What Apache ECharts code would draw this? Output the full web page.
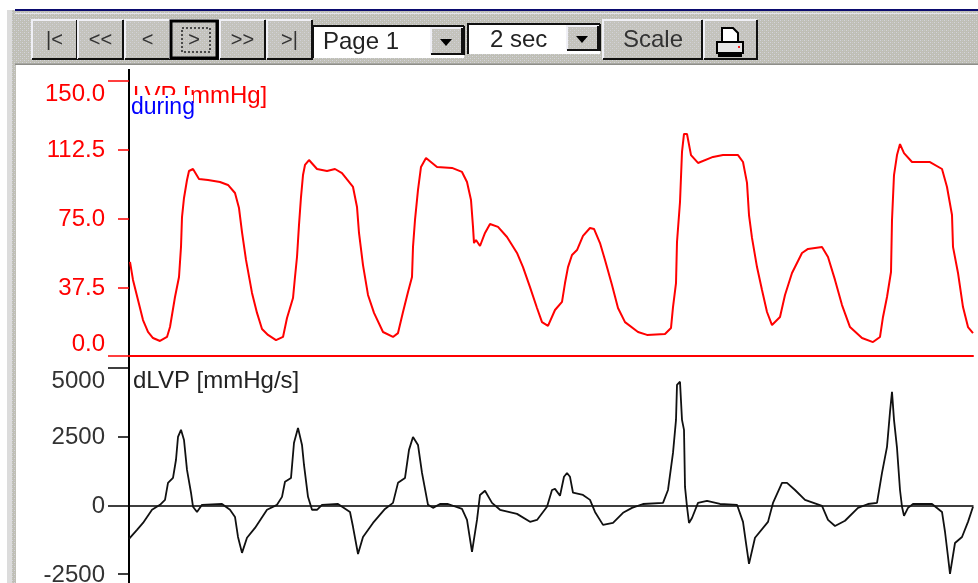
<!DOCTYPE html>
<html><head><meta charset="utf-8">
<style>html,body{margin:0;padding:0;background:#fff}#c{width:978px;height:583px}</style>
<script src="https://cdn.jsdelivr.net/npm/echarts@6/dist/echarts.min.js"></script>
</head><body><div id="c"></div>
<script>
const lvpPoints=[[1,51.3],[4,41.5],[9,30.5],[14,19.6],[19,13.1],[24,9.8],[31,8.2],[38,10.4],[41,15.8],[46,32.2],[50,43.1],[52,59.5],[53,75.8],[55,86.2],[58,96.0],[60,100.9],[64,102.0],[70,96.6],[79,96.0],[91,94.9],[99,93.3],[106,88.9],[110,80.7],[113,67.6],[117,52.4],[123,34.4],[128,23.5],[133,14.7],[139,11.5],[147,8.7],[154,10.4],[158,20.7],[164,31.6],[166,43.1],[168,54.0],[170,71.5],[172,86.7],[174,98.7],[176,104.2],[180,106.9],[188,102.0],[198,100.9],[206,102.0],[213,99.8],[224,92.2],[228,81.3],[230,67.1],[234,49.6],[239,33.3],[245,23.5],[254,13.1],[264,10.4],[269,12.5],[274,24.0],[279,34.9],[283,43.1],[284,59.5],[286,74.2],[289,90.6],[292,103.1],[297,108.0],[308,103.1],[323,102.6],[333,100.4],[338,94.9],[342,85.1],[344,70.4],[345,61.6],[347,63.3],[351,60.0],[356,67.1],[361,72.0],[369,70.4],[378,64.9],[388,56.2],[394,48.5],[401,37.6],[408,26.2],[413,18.5],[419,16.4],[421,16.9],[426,25.1],[433,29.5],[436,39.8],[439,48.5],[443,55.1],[448,57.8],[454,65.5],[461,69.8],[465,69.3],[471,61.6],[476,52.4],[483,38.7],[489,26.2],[496,18.5],[509,13.1],[518,11.5],[536,12.0],[542,15.3],[544,26.7],[547,39.8],[548,62.2],[551,84.0],[553,111.3],[555,121.1],[558,121.1],[562,109.6],[569,105.3],[584,108.6],[594,109.6],[609,109.6],[614,105.8],[618,94.4],[620,76.9],[623,64.4],[628,48.5],[633,36.0],[638,24.0],[643,16.9],[651,21.3],[656,33.3],[663,45.3],[673,56.2],[679,58.4],[693,59.5],[699,54.0],[706,41.5],[713,27.8],[721,15.8],[733,9.8],[744,7.6],[751,10.4],[754,21.3],[758,32.2],[762,45.8],[763,74.2],[765,98.7],[768,109.6],[771,115.6],[775,110.7],[783,105.8],[801,105.8],[813,102.0],[818,92.2],[823,76.9],[824,59.5],[829,45.3],[834,26.7],[839,15.8],[844,12.5]];
const dlvpPoints=[[0,-1220],[8,-890],[14,-640],[23,-160],[31,20],[36,200],[39,820],[44,1000],[47,1660],[49,2490],[52,2750],[55,2380],[58,1290],[62,460],[64,-50],[68,-240],[73,20],[93,50],[101,-160],[106,-420],[109,-1150],[113,-1730],[118,-1180],[126,-820],[138,-160],[148,20],[153,310],[156,860],[162,1000],[165,2280],[169,2820],[173,2200],[175,1470],[179,310],[183,-160],[188,-160],[193,20],[209,50],[221,-240],[224,-780],[229,-1770],[234,-1150],[244,-640],[256,-130],[264,90],[269,820],[276,1000],[280,2020],[284,2490],[289,2200],[293,1180],[299,20],[304,-90],[311,50],[319,50],[333,-130],[338,-530],[343,-1690],[348,-530],[351,380],[356,530],[363,90],[371,-160],[388,-310],[401,-600],[408,-530],[418,-50],[423,560],[426,600],[431,350],[435,1040],[438,1180],[441,1040],[444,460],[454,380],[461,200],[466,-240],[474,-710],[484,-640],[494,-270],[503,-90],[514,50],[534,90],[539,560],[544,1910],[547,3110],[548,4390],[551,4500],[553,3110],[555,2750],[556,670],[558,-50],[560,-640],[563,-460],[569,90],[578,160],[591,50],[608,20],[614,-600],[617,-1370],[620,-2130],[626,-1180],[639,-600],[644,90],[653,820],[658,820],[666,560],[676,200],[693,-20],[699,-530],[706,-750],[716,-560],[729,-90],[739,50],[748,90],[753,1180],[758,2130],[761,3400],[763,4130],[765,3110],[768,2090],[771,560],[773,-50],[775,-380],[779,-90],[784,50],[803,50],[813,-240],[816,-960],[819,-1870],[821,-2490],[826,-1370],[833,-1150],[839,-600],[844,-50]];
const lvpTicks=[0,37.5,75,112.5,150];
const dlvpTicks=[-2500,0,2500,5000];
const lvpLongTicks=[0,150];
const dlvpLongTicks=[0,5000];
const navButtons=['|<','<<','<','>','>>','>|'];
const pageLabel='Page 1', spanLabel='2 sec', scaleLabel='Scale';
const lvpTitle='LVP [mmHg]', stateTitle='during', dlvpTitle='dLVP [mmHg/s]';

const FONT='"Liberation Sans", Arial, sans-serif';
const FS=24;
function dither(a,b,c){
  const cv=document.createElement('canvas');cv.width=cv.height=4;
  const g=cv.getContext('2d');
  g.fillStyle=a;g.fillRect(0,0,4,4);
  g.fillStyle=b;g.fillRect(0,0,1,1);g.fillRect(2,2,1,1);
  g.fillStyle=c;g.fillRect(2,0,1,1);g.fillRect(0,2,1,1);
  return {image:cv,repeat:'repeat'};
}
const BAR=dither('#bfbeb6','#d4d4dc','#c6cac0');
const BTN=dither('#c3c2bc','#d2d2d8','#c8c8c2');

function bevel(x,y,w,h,fill){
  return [
    {type:'rect',shape:{x,y,width:w,height:h},style:{fill:fill||BTN}},
    {type:'polyline',shape:{points:[[x,y+h],[x,y],[x+w,y]]},style:{fill:'none',stroke:'#f0f0f6',lineWidth:2}},
    {type:'polyline',shape:{points:[[x,y+h],[x+w,y+h],[x+w,y]]},style:{fill:'none',stroke:'#111',lineWidth:2}}
  ];
}
function button(x,y,w,h,focus){
  const el=bevel(x,y,w,h);
  if(focus){
    el.push({type:'rect',shape:{x:x+1,y:y+1,width:w-2,height:h-2},style:{fill:'none',stroke:'#000',lineWidth:3}});
    el.push({type:'rect',shape:{x:x+12,y:y+8,width:w-20,height:h-15},style:{fill:'none',stroke:'#222',lineWidth:1.5,lineDash:[2,2]}});
  }
  return el;
}
function label(text,x,y,color,size){
  return {type:'text',x,y,style:{text,fill:color,font:(size||FS)+'px '+FONT,textAlign:'left',textVerticalAlign:'middle'}};
}
const chrome=[];
chrome.push({type:'rect',shape:{x:7,y:10,width:9,height:573},style:{fill:'#dcdcdc'}});
chrome.push({type:'rect',shape:{x:12,y:10,width:4,height:573},style:{fill:BAR}});
chrome.push({type:'rect',shape:{x:15,y:11,width:963,height:54},style:{fill:BAR}});
chrome.push({type:'rect',shape:{x:15,y:9,width:963,height:2},style:{fill:'#0a0a6e'}});
chrome.push({type:'rect',shape:{x:15,y:13,width:963,height:1},style:{fill:'#e4e4ea'}});
chrome.push({type:'rect',shape:{x:15,y:63.5,width:963,height:1.5},style:{fill:'#8e8e8a'}});
const nb=[[32,45],[78,45],[125,45],[170,48],[220,45],[267,45]];
nb.forEach((b,i)=>{
  chrome.push(...button(b[0],20,b[1],39,i===3));
  chrome.push({type:'text',x:b[0]+b[1]/2,y:40,style:{text:navButtons[i],fill:'#333',font:'20px '+FONT,textAlign:'center',textVerticalAlign:'middle'}});
});
function combo(x,y,w,h,text,tx,ty){
  const el=[];
  el.push({type:'rect',shape:{x,y,width:w,height:h},style:{fill:'#fff'}});
  el.push({type:'polyline',shape:{points:[[x,y+h],[x,y],[x+w,y]]},style:{fill:'none',stroke:'#111',lineWidth:2}});
  el.push({type:'polyline',shape:{points:[[x+w,y],[x+w,y+h-3]]},style:{fill:'none',stroke:'#111',lineWidth:2}});
  el.push(...bevel(x+w-33,y+2,31,h-6));
  el.push({type:'polygon',shape:{points:[[x+w-24,y+h/2-3],[x+w-12,y+h/2-3],[x+w-18,y+h/2+4]]},style:{fill:'#000'}});
  el.push(label(text,tx,ty,'#222'));
  return el;
}
chrome.push(...combo(313,26,151,32,pageLabel,323,42));
chrome.push(...combo(468,24,132,30,spanLabel,490,40));
chrome.push(...button(603,20,99,39,false));
chrome.push(label(scaleLabel,623,40,'#333'));
chrome.push(...button(704,20,53,39,false));
chrome.push(
 {type:'polygon',shape:{points:[[722,28],[733,28],[738,33],[738,42],[722,42]]},style:{fill:'#fff',stroke:'#000',lineWidth:2}},
 {type:'rect',shape:{x:717,y:42,width:26,height:11},style:{fill:'#e6e6e6',stroke:'#000',lineWidth:2}},
 {type:'rect',shape:{x:718,y:54,width:24,height:3},style:{fill:'#000'}},
 {type:'rect',shape:{x:738,y:46,width:2,height:2},style:{fill:'#ff2020'}}
);
chrome.push({type:'line',shape:{x1:129,y1:69,x2:129,y2:583},style:{stroke:'#000',lineWidth:2}});
chrome.push(label(lvpTitle,133,96,'#ff0000'));
chrome.push({type:'rect',shape:{x:131,y:95,width:62,height:25},style:{fill:'#fff'}});
chrome.push(label(stateTitle,131,108,'#0000ff',23));
chrome.push(label(dlvpTitle,133,381,'#222'));

const rich=(color)=>({
  n:{color,fontFamily:FONT,fontSize:FS,padding:[2,0,0,0]},
  down:{color,fontFamily:FONT,fontSize:FS,padding:[26,0,0,0]},
  up:{color,fontFamily:FONT,fontSize:FS,padding:[0,0,24,0]}
});
const lvpFmt=v=>'{'+(v===150?'down':v===0?'up':'n')+'|'+v.toFixed(1)+'}';
const dlvpFmt=v=>'{'+(v===5000?'down':'n')+'|'+v+'}';
const chart=echarts.init(document.getElementById('c'),null,{renderer:'canvas'});
chart.setOption({
  animation:false,backgroundColor:'#fff',
  graphic:{elements:chrome.map(e=>Object.assign({z:-10,silent:true},e))},
  grid:[{left:129,width:844,top:81,height:275,outerBoundsMode:'none'},{left:129,width:844,top:368,height:214.3,outerBoundsMode:'none'}],
  xAxis:[
    {gridIndex:0,type:'value',min:0,max:844,axisLine:{lineStyle:{color:'#ff0000',width:2}},axisTick:{show:false},axisLabel:{show:false},splitLine:{show:false}},
    {gridIndex:1,type:'value',min:0,max:844,axisLine:{onZero:true,lineStyle:{color:'#000',width:1.5}},axisTick:{show:false},axisLabel:{show:false},splitLine:{show:false}}
  ],
  yAxis:[
    {gridIndex:0,type:'value',min:0,max:150,position:'left',splitLine:{show:false},axisLine:{show:false},
     axisTick:{customValues:lvpTicks,length:11,lineStyle:{color:'#ff0000',width:1.5}},
     axisLabel:{customValues:lvpTicks,margin:24,formatter:lvpFmt,rich:rich('#ff0000')}},
    {gridIndex:0,type:'value',min:0,max:150,position:'left',splitLine:{show:false},axisLine:{show:false},
     axisTick:{customValues:lvpLongTicks,length:21,lineStyle:{color:'#ff0000',width:1.5}},axisLabel:{show:false}},
    {gridIndex:1,type:'value',min:-2800,max:5000,position:'left',splitLine:{show:false},axisLine:{show:false},
     axisTick:{customValues:dlvpTicks,length:11,lineStyle:{color:'#000',width:1.5}},
     axisLabel:{customValues:dlvpTicks,margin:24,formatter:dlvpFmt,rich:rich('#333')}},
    {gridIndex:1,type:'value',min:-2800,max:5000,position:'left',splitLine:{show:false},axisLine:{show:false},
     axisTick:{customValues:dlvpLongTicks,length:21,lineStyle:{color:'#000',width:1.5}},axisLabel:{show:false}}
  ],
  series:[
    {type:'line',xAxisIndex:0,yAxisIndex:0,data:lvpPoints,showSymbol:false,smooth:false,lineStyle:{color:'#ff0000',width:2},clip:false},
    {type:'line',xAxisIndex:1,yAxisIndex:2,data:dlvpPoints,showSymbol:false,smooth:false,lineStyle:{color:'#111',width:1.8},clip:false}
  ]
});
</script></body></html>
